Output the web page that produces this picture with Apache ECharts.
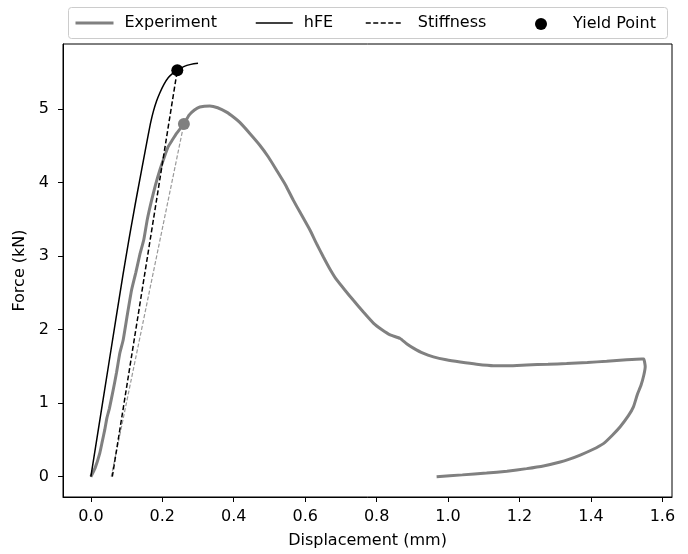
<!DOCTYPE html>
<html>
<head>
<meta charset="utf-8">
<script src="https://cdn.jsdelivr.net/npm/echarts@6/dist/echarts.min.js"></script>
<style>
html,body{margin:0;padding:0;background:#fff;}
#chart{width:688px;height:554px;}
</style>
</head>
<body>
<div id="chart"></div>
<script>
// ---- data ----
var experiment = [
  [0,0],[0.012,0.12],[0.025,0.32],[0.032,0.48],[0.039,0.64],[0.045,0.80],[0.052,0.93],
  [0.0625,1.18],[0.072,1.42],[0.081,1.68],[0.0905,1.86],[0.102,2.2],[0.114,2.54],
  [0.126,2.78],[0.137,3.02],[0.148,3.22],[0.158,3.50],[0.170,3.76],[0.181,3.97],
  [0.193,4.17],[0.205,4.34],[0.2165,4.49],[0.228,4.58],[0.240,4.67],[0.2605,4.80],
  [0.275,4.92],[0.29,4.99],[0.305,5.03],[0.333,5.045],[0.355,5.02],[0.38,4.96],
  [0.40,4.89],[0.417,4.82],[0.445,4.67],[0.473,4.51],[0.497,4.35],[0.520,4.17],
  [0.545,3.97],[0.567,3.76],[0.590,3.56],[0.613,3.36],[0.632,3.17],[0.651,2.99],
  [0.670,2.82],[0.688,2.68],[0.711,2.54],[0.735,2.40],[0.763,2.24],[0.791,2.09],
  [0.815,2.00],[0.838,1.93],[0.866,1.88],[0.884,1.81],[0.903,1.75],[0.930,1.68],
  [0.959,1.63],[0.995,1.59],[1.034,1.56],[1.08,1.53],[1.127,1.51],[1.17,1.51],
  [1.220,1.52],[1.28,1.53],[1.332,1.54],[1.39,1.555],[1.444,1.57],[1.50,1.59],
  [1.542,1.60],[1.548,1.60],[1.552,1.50],[1.548,1.38],[1.540,1.24],[1.530,1.12],
  [1.519,0.95],[1.505,0.83],[1.482,0.68],[1.460,0.565],[1.435,0.45],[1.405,0.37],
  [1.370,0.295],[1.340,0.24],[1.314,0.20],[1.27,0.15],[1.220,0.11],[1.165,0.075],
  [1.108,0.05],[1.04,0.025],[0.968,0.0]
];
var hfe = [
  [0,0],[0.05,1.53],[0.09,2.75],[0.105,3.18],[0.118,3.54],[0.130,3.86],[0.142,4.17],
  [0.152,4.43],[0.161,4.66],[0.168,4.83],[0.175,4.97],[0.184,5.11],[0.193,5.22],
  [0.205,5.34],[0.217,5.43],[0.23,5.49],[0.242,5.53],[0.26,5.58],[0.28,5.61],[0.300,5.625]
];
var stiffnessHfe = [[0.060,0],[0.242,5.53]];
var stiffnessExp = [[0.057,0],[0.2605,4.80]];
var yieldHfe = [0.242,5.53];
var yieldExp = [0.2605,4.80];
var xTicks = [0,0.2,0.4,0.6,0.8,1.0,1.2,1.4,1.6];
var yTicks = [0,1,2,3,4,5];
var legendNames = ['Experiment','hFE','Stiffness','Yield Point'];

var FONT = 'DejaVu Sans';
var chart = echarts.init(document.getElementById('chart'), null, {renderer:'canvas'});

function legendAt(name, left, w, h, top, pad, lineWidth, hideSymbol){
  var l = {
    data:[name], left:left, top:top, padding:0, itemWidth:w, itemHeight:h,
    selectedMode:false,
    textStyle:{fontFamily:FONT, fontSize:16, color:'#000', padding:[0,0,0,pad]}
  };
  if (hideSymbol) { l.itemStyle = {opacity:0}; }
  if (lineWidth) { l.lineStyle = {width:lineWidth, opacity:1}; }
  return l;
}

var option = {
  animation:false,
  backgroundColor:'#fff',
  graphic:[{
    type:'rect', left:68, top:7, z:-1,
    shape:{width:599, height:31, r:3},
    style:{fill:'#fff', stroke:'#cccccc', lineWidth:1}
  }],
  legend:[
    legendAt(legendNames[0], 74, 38, 14, 15, 6, 3, true),
    legendAt(legendNames[1], 255, 37, 14, 15, 6, 1.5, true),
    legendAt(legendNames[2], 365, 37, 14, 15, 10, 1.5, true),
    legendAt(legendNames[3], 535, 12, 12, 16, 21, 0, false)
  ],
  grid:{left:63, right:16, top:44, bottom:57, show:true, borderColor:'#000', borderWidth:1, backgroundColor:'transparent'},
  xAxis:{
    type:'value', min:-0.078, max:1.627,
    name:'Displacement (mm)', nameLocation:'middle', nameGap:36,
    nameTextStyle:{fontFamily:FONT, fontSize:16, color:'#000'},
    axisLine:{show:true, onZero:false, lineStyle:{color:'#000', width:1}},
    axisTick:{show:true, inside:false, length:5, lineStyle:{color:'#000', width:1}, customValues:xTicks},
    axisLabel:{fontFamily:FONT, fontSize:16, color:'#000', margin:12, customValues:xTicks,
      formatter:function(v){return v.toFixed(1);}},
    splitLine:{show:false}
  },
  yAxis:{
    type:'value', min:-0.276, max:5.887,
    name:'Force (kN)', nameLocation:'middle', nameGap:30,
    nameTextStyle:{fontFamily:FONT, fontSize:16, color:'#000'},
    axisLine:{show:true, onZero:false, lineStyle:{color:'#000', width:1}},
    axisTick:{show:true, inside:false, length:5, lineStyle:{color:'#000', width:1}, customValues:yTicks},
    axisLabel:{fontFamily:FONT, fontSize:16, color:'#000', margin:14, customValues:yTicks,
      formatter:function(v){return String(Math.round(v));}},
    splitLine:{show:false}
  },
  series:[
    {name:'Experiment', type:'line', data:experiment, showSymbol:false, symbol:'none', smooth:0.15,
      lineStyle:{color:'#808080', width:3}, itemStyle:{color:'#808080'}, z:2},
    {name:'hFE', type:'line', data:hfe, showSymbol:false, symbol:'none', smooth:0.3,
      lineStyle:{color:'#000', width:1.5}, itemStyle:{color:'#000'}, z:3},
    {name:'Stiffness', type:'line', data:stiffnessHfe, showSymbol:false, symbol:'none',
      lineStyle:{color:'#000', width:1.5, type:[5,2.5]}, itemStyle:{color:'#000'}, z:3},
    {name:'Stiffness Experiment', type:'line', data:stiffnessExp, showSymbol:false, symbol:'none',
      lineStyle:{color:'#999', width:1.2, type:[4,2]}, itemStyle:{color:'#999'}, z:2},
    {name:'Yield Point', type:'scatter', symbol:'circle', symbolSize:12, z:5,
      itemStyle:{color:'#000', opacity:1},
      data:[
        {value:yieldHfe, itemStyle:{color:'#000', opacity:1}},
        {value:yieldExp, itemStyle:{color:'#808080', opacity:1}}
      ]}
  ]
};
chart.setOption(option);
</script>
</body>
</html>
